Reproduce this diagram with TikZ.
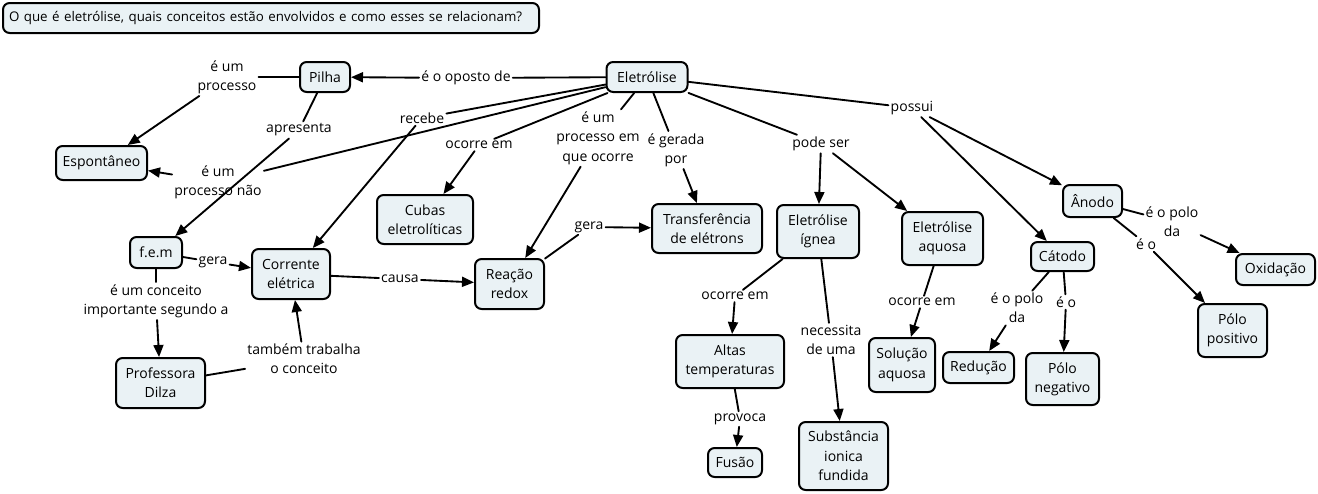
\documentclass[tikz,border=0pt]{standalone}
\usepackage{fontspec}
\setmainfont{Open Sans}
\usetikzlibrary{arrows.meta}
\definecolor{boxfill}{RGB}{234,242,245}
\tikzset{
  box/.style={draw=black, fill=boxfill, rounded corners=5pt, line width=1.5pt, align=center, inner sep=0pt},
  sz/.style n args={2}{minimum width=#1*0.75pt, minimum height=#2*0.75pt},
  lab/.style={align=center, inner sep=1.5pt},
  con/.style={line width=1.4pt, line cap=round},
  arr/.style={con, -{Triangle[length=9pt,width=7.5pt]}}
}
\begin{document}
\begin{tikzpicture}[x=0.75pt,y=-0.75pt,font=\fontsize{10.5pt}{14.5pt}\selectfont]
\useasboundingbox (0,0) rectangle (1318,493);
% title
\node[box, anchor=west, minimum height=30*0.75pt, inner xsep=4.5pt, text width=524*0.75pt, align=left, font=\fontsize{10pt}{12pt}\selectfont] (title) at (2,18) {\mbox{O que é eletrólise, quais conceitos estão envolvidos e como esses se relacionam?}};
% concepts
\node[box, sz={50}{30}] (pilha) at (325,77) {Pilha};
\node[box, sz={81}{30}] (elet) at (647,77) {Eletrólise};
\node[box, sz={91}{34}] (espont) at (101.5,163) {Espontâneo};
\node[box, sz={96}{49}] (cubas) at (425,219.5) {Cubas\\eletrolíticas};
\node[box, sz={110}{49}] (transf) at (707,228.5) {Transferência\\de elétrons};
\node[box, sz={82}{53}] (ignea) at (818,231.5) {Eletrólise\\ígnea};
\node[box, sz={81}{53}] (aquosa) at (942.5,238.5) {Eletrólise\\aquosa};
\node[box, sz={63}{29}] (catodo) at (1062.5,256.5) {Cátodo};
\node[box, sz={59}{32}] (anodo) at (1092.5,201) {Ânodo};
\node[box, sz={79}{31}] (oxid) at (1275.5,269.5) {Oxidação};
\node[box, sz={69}{53}] (polpos) at (1232.5,330.5) {Pólo\\positivo};
\node[box, sz={71}{31}] (reducao) at (978.5,367.5) {Redução};
\node[box, sz={73}{52}] (polneg) at (1062.5,379) {Pólo\\negativo};
\node[box, sz={66}{54}] (solucao) at (902,365) {Solução\\aquosa};
\node[box, sz={108}{53}] (altas) at (730,361.5) {Altas\\temperaturas};
\node[box, sz={54}{29}] (fusao) at (735,462.5) {Fusão};
\node[box, sz={89}{68}] (subst) at (843.5,456) {Substância\\ionica\\fundida};
\node[box, sz={52}{31}] (fem) at (156,252.5) {f.e.m};
\node[box, sz={78}{50}] (corr) at (291,274) {Corrente\\elétrica};
\node[box, sz={69}{50}] (redox) at (509.5,284) {Reação\\redox};
\node[box, sz={89}{50}] (dilza) at (160.5,383) {Professora\\Dilza};
% linking phrases
\node[lab] (loposto) at (466,78) {é o oposto de};
\node[lab] (lumproc) at (227,77) {é um\\processo};
\node[lab] (lapres) at (299,130) {apresenta};
\node[lab] (lnao) at (218,182) {é um\\processo não};
\node[lab] (lrecebe) at (422,118) {recebe};
\node[lab] (locorre1) at (479,145) {ocorre em};
\node[lab] (lprocem) at (598,138) {é um\\processo em\\que ocorre};
\node[lab] (lgerada) at (676,150) {é gerada\\por};
\node[lab] (lpode) at (821,144) {pode ser};
\node[lab] (lpossui) at (912,108) {possui};
\node[lab] (lgera2) at (589,227) {gera};
\node[lab] (lcausa) at (400,279) {causa};
\node[lab] (lgera1) at (213,262) {gera};
\node[lab] (lconc) at (156,301) {é um conceito\\importante segundo a};
\node[lab] (ltamb) at (304,359) {também trabalha\\o conceito};
\node[lab] (locorre2) at (735,296) {ocorre em};
\node[lab] (lnec) at (831,340) {necessita\\de uma};
\node[lab] (lprov) at (740,419) {provoca};
\node[lab] (locorre3) at (922,302) {ocorre em};
\node[lab] (lpolo1) at (1017,308) {é o polo\\da};
\node[lab] (leo1) at (1066,302) {é o};
\node[lab] (lpolo2) at (1172,222) {é o polo\\da};
\node[lab] (leo2) at (1146,244) {é o};
% connectors
\draw[con] (elet) -- (loposto); \draw[arr] (loposto) -- (pilha);
\draw[con] (pilha) -- (lumproc); \draw[arr] (lumproc) -- (espont);
\draw[con] (pilha) -- (lapres); \draw[arr] (lapres) -- (fem);
\draw[con] (elet) -- (lnao); \draw[arr] (lnao) -- (espont);
\draw[con] (elet) -- (lrecebe); \draw[arr] (lrecebe) -- (corr);
\draw[con] (elet) -- (locorre1); \draw[arr] (locorre1) -- (cubas);
\draw[con] (elet) -- (lprocem); \draw[arr] (lprocem) -- (redox);
\draw[con] (elet) -- (lgerada); \draw[arr] (lgerada) -- (transf);
\draw[con] (elet) -- (lpode); \draw[arr] (lpode) -- (ignea); \draw[arr] (lpode) -- (aquosa);
\draw[con] (elet) -- (lpossui); \draw[arr] (lpossui) -- (anodo); \draw[arr] (lpossui) -- (catodo);
\draw[con] (redox) -- (lgera2); \draw[arr] (lgera2) -- (transf);
\draw[con] (corr) -- (lcausa); \draw[arr] (lcausa) -- (redox);
\draw[con] (fem) -- (lgera1); \draw[arr] (lgera1) -- (corr);
\draw[con] (fem) -- (lconc); \draw[arr] (lconc) -- (dilza);
\draw[con] (dilza) -- (ltamb); \draw[arr] (ltamb) -- (corr);
\draw[con] (ignea) -- (locorre2); \draw[arr] (locorre2) -- (altas);
\draw[con] (ignea) -- (lnec); \draw[arr] (lnec) -- (subst);
\draw[con] (altas) -- (lprov); \draw[arr] (lprov) -- (fusao);
\draw[con] (aquosa) -- (locorre3); \draw[arr] (locorre3) -- (solucao);
\draw[con] (catodo) -- (lpolo1); \draw[arr] (lpolo1) -- (reducao);
\draw[con] (catodo) -- (leo1); \draw[arr] (leo1) -- (polneg);
\draw[con] (anodo) -- (lpolo2); \draw[arr] (lpolo2) -- (oxid);
\draw[con] (anodo) -- (leo2); \draw[arr] (leo2) -- (polpos);
\end{tikzpicture}
\end{document}
